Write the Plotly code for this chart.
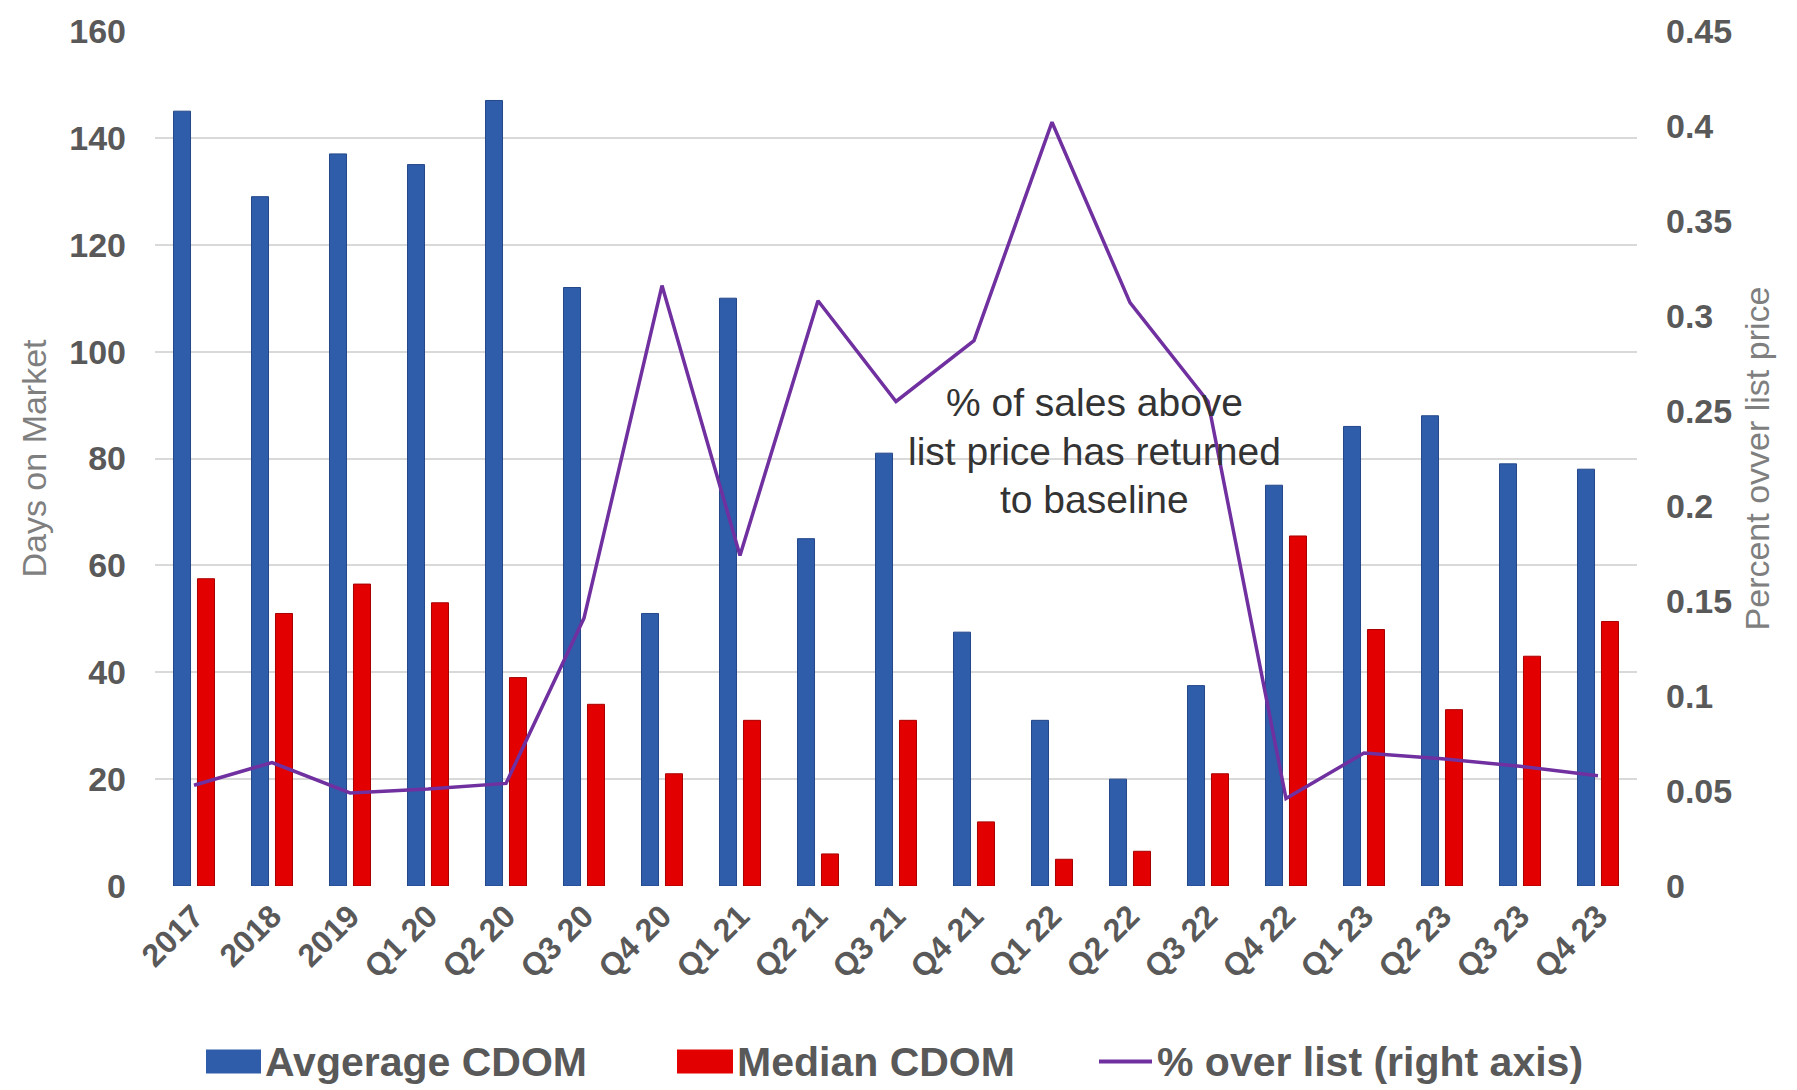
import plotly.graph_objects as go

# ---- data -------------------------------------------------------------
periods = ["2017", "2018", "2019", "Q1 20", "Q2 20", "Q3 20", "Q4 20",
           "Q1 21", "Q2 21", "Q3 21", "Q4 21", "Q1 22", "Q2 22", "Q3 22",
           "Q4 22", "Q1 23", "Q2 23", "Q3 23", "Q4 23"]
average_cdom = [145, 129, 137, 135, 147, 112, 51, 110, 65, 81, 47.5, 31,
                20, 37.5, 75, 86, 88, 79, 78]
median_cdom = [57.5, 51, 56.5, 53, 39, 34, 21, 31, 6, 31, 12, 5, 6.5, 21,
               65.5, 48, 33, 43, 49.5]
pct_over_list = [0.053, 0.065, 0.049, 0.051, 0.054, 0.141, 0.316, 0.174,
                 0.308, 0.255, 0.287, 0.402, 0.307, 0.255, 0.046, 0.070,
                 0.067, 0.063, 0.058]
left_ticks = [0, 20, 40, 60, 80, 100, 120, 140, 160]
right_ticks = [0, 0.05, 0.1, 0.15, 0.2, 0.25, 0.3, 0.35, 0.4, 0.45]
legend_names = ["Avgerage CDOM", "Median CDOM", "% over list (right axis)"]
note_lines = ["% of sales above", "list price has returned", "to baseline"]

# ---- style ------------------------------------------------------------
W, H = 1797, 1090
PL, PR, PT, PB = 155, 1637, 29, 886          # plot area in pixels
BLUE, RED, PURPLE = "#2F5DAA", "#E20000", "#7030A0"
GRID = "#D9D9D9"
TXT = "#595959"
FONT = "Liberation Sans, Arial, sans-serif"


def px_x(x):
    return (x - PL) / (PR - PL)


def px_y(y):
    return (PB - y) / (PB - PT)


fig = go.Figure()
fig.add_trace(go.Bar(x=periods, y=average_cdom, name=legend_names[0],
                     marker=dict(color=BLUE, line=dict(color="#24478A", width=1))))
fig.add_trace(go.Bar(x=periods, y=median_cdom, name=legend_names[1],
                     marker=dict(color=RED, line=dict(color="#A80000", width=1))))
fig.add_trace(go.Scatter(x=periods, y=pct_over_list, name=legend_names[2],
                         yaxis="y2", mode="lines",
                         line=dict(color=PURPLE, width=3.5)))

# ---- legend drawn as swatches + labels below the plot -----------------
shapes = []
annotations = []
ly = 1062
shapes.append(dict(type="rect", xref="paper", yref="paper",
                   x0=px_x(206), x1=px_x(261), y0=px_y(ly + 12), y1=px_y(ly - 12),
                   fillcolor=BLUE, line=dict(width=0)))
shapes.append(dict(type="rect", xref="paper", yref="paper",
                   x0=px_x(677), x1=px_x(733), y0=px_y(ly + 12), y1=px_y(ly - 12),
                   fillcolor=RED, line=dict(width=0)))
shapes.append(dict(type="line", xref="paper", yref="paper",
                   x0=px_x(1099), x1=px_x(1152), y0=px_y(ly), y1=px_y(ly),
                   line=dict(color=PURPLE, width=4)))
for name, xs in zip(legend_names, [263, 735, 1155]):
    annotations.append(dict(text=name, xref="paper", yref="paper",
                            x=px_x(xs), y=px_y(ly), xanchor="left",
                            yanchor="middle", showarrow=False,
                            font=dict(family=FONT, size=41, color=TXT,
                                      weight="bold")))

# ---- callout text ------------------------------------------------------
for line, yy in zip(note_lines, [401, 450, 499]):
    annotations.append(dict(text=line, xref="paper", yref="paper",
                            x=px_x(1094), y=px_y(yy), xanchor="center",
                            yanchor="middle", showarrow=False,
                            font=dict(family=FONT, size=39, color="#333333")))

fig.update_layout(
    width=W, height=H,
    margin=dict(l=PL, r=W - PR, t=PT, b=H - PB, pad=0),
    paper_bgcolor="white", plot_bgcolor="white",
    barmode="group", bargap=0.385, bargroupgap=0.29,
    showlegend=False,
    font=dict(family=FONT, color=TXT),
    xaxis=dict(type="category", tickangle=-45, showgrid=False,
               showline=False, zeroline=False, ticks="",
               ticklabelstandoff=4,
               tickfont=dict(family=FONT, size=32, color=TXT, weight="bold")),
    yaxis=dict(range=[0, 160], tickvals=left_ticks, showgrid=True,
               gridcolor=GRID, gridwidth=2, zeroline=False, showline=False,
               ticks="", ticklabelstandoff=28,
               tickfont=dict(family=FONT, size=34, color=TXT, weight="bold"),
               title=dict(text="Days on Market", standoff=12,
                          font=dict(family=FONT, size=34, color="#7F7F7F"))),
    yaxis2=dict(range=[0, 0.45], tickvals=right_ticks, overlaying="y",
                side="right", showgrid=False, zeroline=False, showline=False,
                ticks="", ticklabelstandoff=28,
                tickfont=dict(family=FONT, size=34, color=TXT, weight="bold"),
                title=dict(text="Percent ovver list price", standoff=14,
                           font=dict(family=FONT, size=34, color="#7F7F7F"))),
    shapes=shapes,
    annotations=annotations,
)

fig.write_html("out.html")
